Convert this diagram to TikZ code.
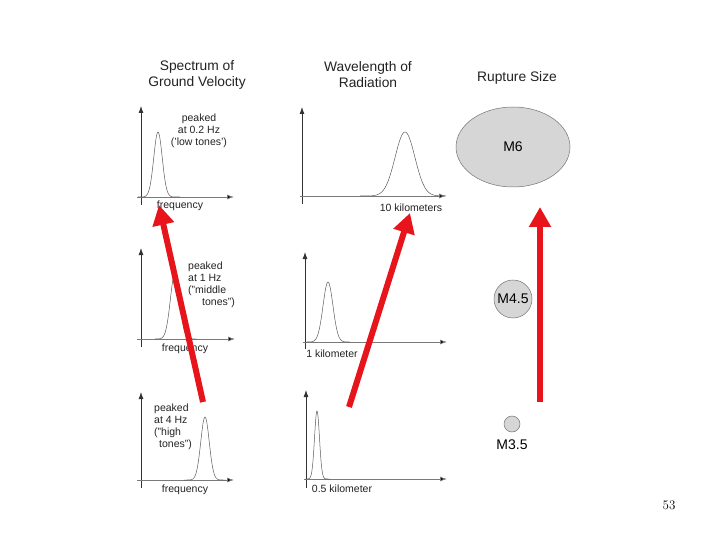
\documentclass[tikz,border=0pt]{standalone}
\usepackage{fontspec}
\setsansfont{Liberation Sans}
\usetikzlibrary{arrows.meta,positioning,shapes.geometric}
\definecolor{quakered}{HTML}{E8141B}
\definecolor{discgray}{HTML}{D6D6D6}
\definecolor{axisgray}{HTML}{7A7A7A}
\definecolor{inkgray}{HTML}{222222}
\tikzset{
  headline/.style={font=\sffamily\fontsize{13.8}{16}\selectfont, align=center, text=inkgray, inner sep=0pt},
  note/.style={font=\sffamily\fontsize{10.5}{12}\selectfont, align=left, text=inkgray, inner sep=0pt},
  yaxis/.style={-{Latex[length=7pt,width=5pt]}, line width=0.8pt, draw=black!80},
  xaxis/.style={-{Latex[length=7pt,width=5pt,fill=black]}, line width=0.8pt, draw=axisgray},
  peak/.style={line width=0.5pt, draw=black!65, smooth},
  rupture/.style={ellipse, draw=black!55, fill=discgray, line width=0.5pt, inner sep=0pt, font=\sffamily\fontsize{14}{16}\selectfont},
  quake/.style={-{Triangle[length=20pt,width=21pt]}, line width=6pt, draw=quakered}
}
\begin{document}
\begin{tikzpicture}[x=1pt,y=-1pt]
  \useasboundingbox (0,0) rectangle (720,540);
  % column headings
  \node[headline] (spechead) at (197,75) {Spectrum of\\Ground Velocity};
  \node[headline] (wavehead) at (368,75) {Wavelength of\\Radiation};
  \node[headline] (ruphead) at (517,78) {Rupture Size};
  % spectra
  \draw[yaxis] (141,205) -- (141,106);
  \draw[xaxis] (137,197) -- (234,197);
  \draw[peak] plot[domain=138:180, samples=60] (\x, {197-65*exp(-((\x-158)/6)^2)});
  \node[note, align=center] (lowtext) at (199,131) {peaked\\at 0.2 Hz\\(’low tones’)};
  \node[note] (freqa) at (180,206) {frequency};
  \draw[yaxis] (141,347) -- (141,248);
  \draw[xaxis] (137,339) -- (235,339);
  \draw[peak] plot[domain=155:197, samples=60] (\x, {339-66*exp(-((\x-175)/6.5)^2)});
  \node[note, anchor=north west] (midtext) at (188,262) {peaked\\at 1 Hz\\("middle\\\hspace*{14pt}tones")};
  \node[note] (freqb) at (185,349) {frequency};
  \draw[yaxis] (141,488) -- (141,392);
  \draw[xaxis] (137,480) -- (234,480);
  \draw[peak] plot[domain=184:226, samples=60] (\x, {480-63*exp(-((\x-205)/6)^2)});
  \node[note, anchor=north west] (hightext) at (154,404) {peaked\\at 4 Hz\\("high\\\hspace*{5pt}tones")};
  \node[note] (freqc) at (185,490) {frequency};
  % wavelengths
  \draw[yaxis] (302,204) -- (302,107);
  \draw[xaxis] (300,196) -- (446,196);
  \draw[peak] plot[domain=360:446, samples=80] (\x, {196-64*exp(-((\x-405)/14)^2)});
  \node[note] (tenkm) at (411,208) {10 kilometers};
  \draw[yaxis] (305,349) -- (305,252);
  \draw[xaxis] (303,342) -- (447,342);
  \draw[peak] plot[domain=306:350, samples=60] (\x, {342-60*exp(-((\x-328)/7)^2)});
  \node[note] (onekm) at (332,354) {1 kilometer};
  \draw[yaxis] (306,488) -- (306,390);
  \draw[xaxis] (304,479) -- (447,479);
  \draw[peak] plot[domain=305:330, samples=60] (\x, {479-68*exp(-((\x-317)/3.5)^2)});
  \node[note] (halfkm) at (342,489) {0.5 kilometer};
  % rupture discs
  \node[rupture, minimum width=114pt, minimum height=80pt] (msix) at (513,147) {M6};
  \node[rupture, circle, minimum size=38pt] (mfour) at (513,299) {M4.5};
  \node[rupture, circle, minimum size=16pt] (mthree) at (512,424) {};
  \node[rupture, draw=none, fill=none, below=5pt of mthree] (mthreetext) {M3.5};
  % red arrows
  \coordinate (tailA) at (203,402);
  \coordinate (tipA) at (159,205);
  \coordinate (tailB) at (349,407);
  \coordinate (tipB) at (410,213);
  \coordinate (tailC) at (540,402);
  \coordinate (tipC) at (540,207);
  \draw[quake] (tailA) -- (tipA);
  \draw[quake] (tailB) -- (tipB);
  \draw[quake] (tailC) -- (tipC);
  \node[font=\fontsize{13}{15}\selectfont] (pagenum) at (669,505) {53};
\end{tikzpicture}
\end{document}
